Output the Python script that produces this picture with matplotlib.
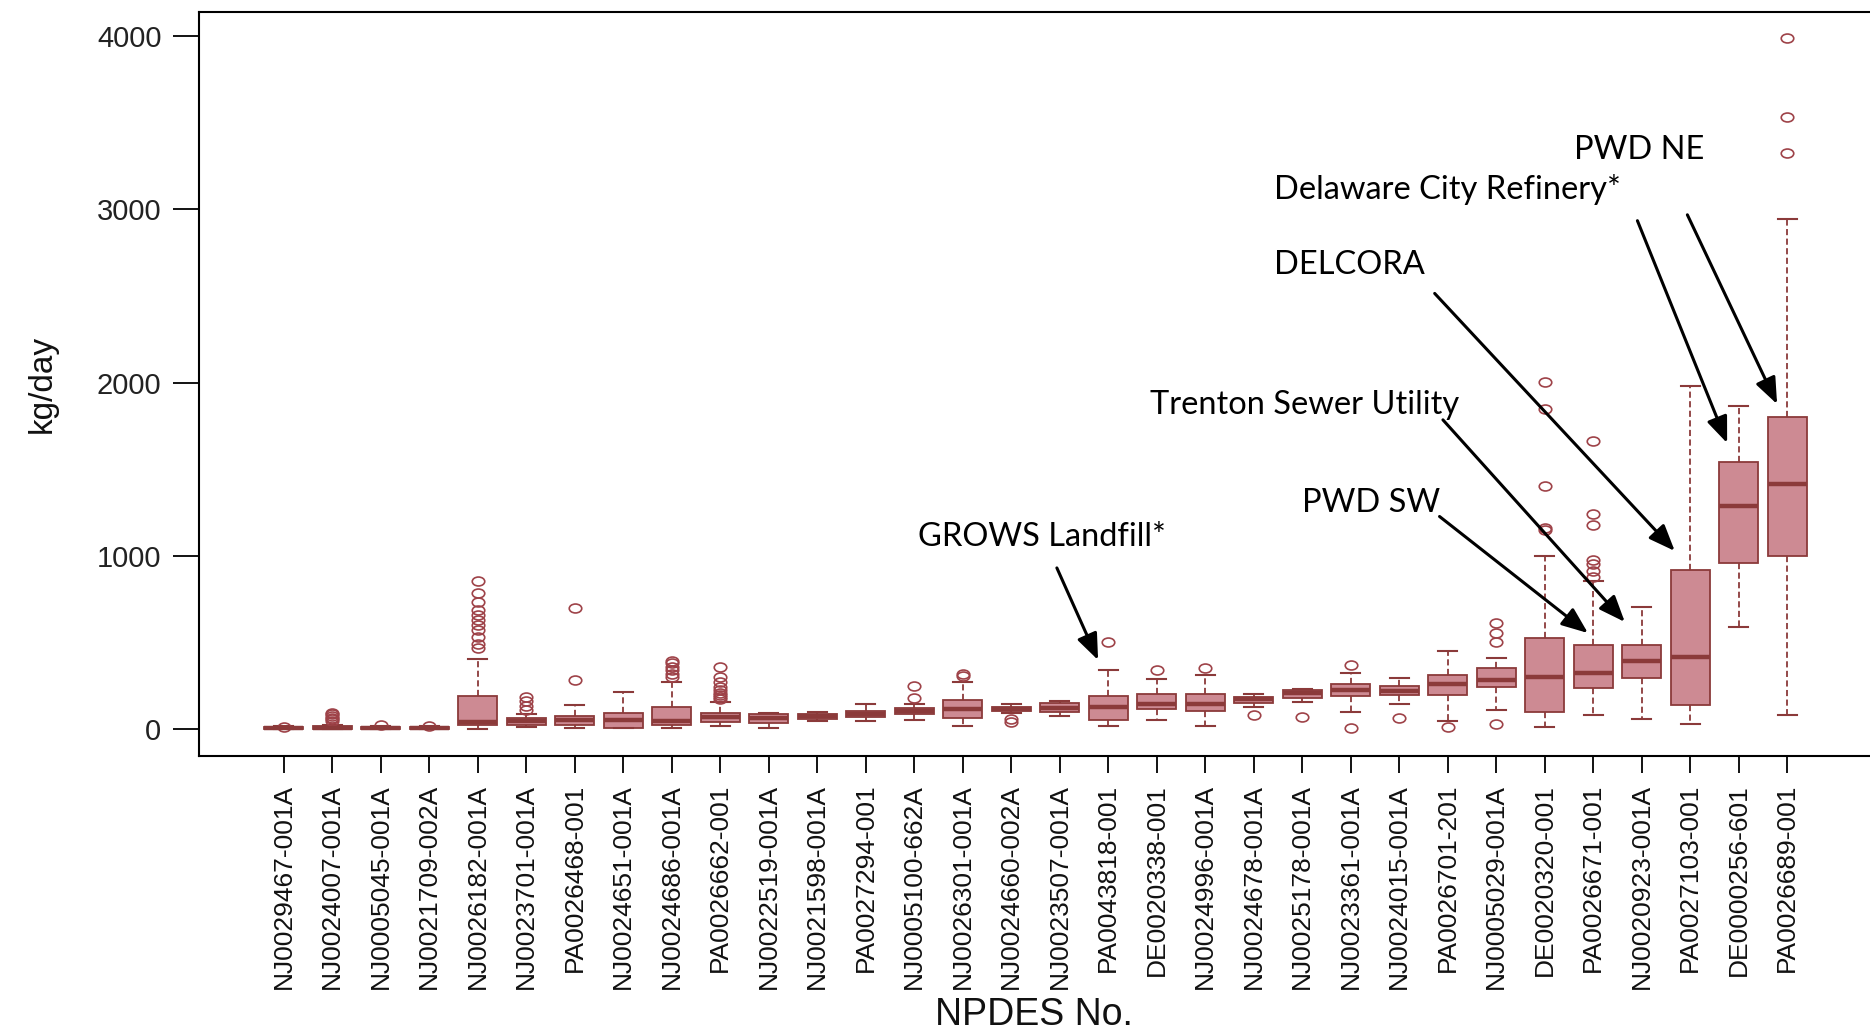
import numpy as np
import matplotlib
matplotlib.use("Agg")
import matplotlib.pyplot as plt
from matplotlib.path import Path
from matplotlib.transforms import Affine2D

# NPDES outfalls, ordered by median load
sites = ["NJ0029467-001A", "NJ0024007-001A", "NJ0005045-001A", "NJ0021709-002A",
         "NJ0026182-001A", "NJ0023701-001A", "PA0026468-001", "NJ0024651-001A",
         "NJ0024686-001A", "PA0026662-001", "NJ0022519-001A", "NJ0021598-001A",
         "PA0027294-001", "NJ0005100-662A", "NJ0026301-001A", "NJ0024660-002A",
         "NJ0023507-001A", "PA0043818-001", "DE0020338-001", "NJ0024996-001A",
         "NJ0024678-001A", "NJ0025178-001A", "NJ0023361-001A", "NJ0024015-001A",
         "PA0026701-201", "NJ0005029-001A", "DE0020320-001", "PA0026671-001",
         "NJ0020923-001A", "PA0027103-001", "DE0000256-601", "PA0026689-001"]

# box statistics, kg/day
q1 = [0, 0, 0, 0, 22, 25, 23, 8, 23, 38, 33, 60, 67, 85, 62, 106,
      100, 52, 115, 106, 148, 181, 190, 196, 198, 244, 100, 238, 292, 139, 957, 1001]
med = [4, 5, 4, 3, 42, 45, 50, 50, 46, 70, 65, 75, 87, 106, 114, 117,
       119, 129, 144, 144, 171, 206, 225, 221, 260, 283, 302, 321, 394, 414, 1289, 1415]
q3 = [10, 20, 12, 10, 192, 65, 77, 94, 129, 94, 87, 87, 102, 123, 167, 129,
      148, 192, 202, 202, 187, 225, 260, 250, 312, 350, 524, 485, 485, 918, 1543, 1800]
whis_lo = [0, 0, 0, 0, 0, 10, 8, 4, 8, 19, 8, 44, 44, 52, 19, 90,
           75, 19, 52, 19, 129, 154, 100, 144, 45, 110, 10, 81, 56, 27, 591, 81]
whis_hi = [15, 25, 20, 15, 404, 85, 139, 212, 273, 158, 92, 100, 144, 144, 273, 144,
           164, 341, 287, 312, 200, 229, 321, 293, 448, 412, 1001, 856, 706, 1982, 1865, 2945]
outliers = [
    [12], [45, 55, 65, 75, 85, 95], [25], [20],
    [466, 490, 533, 571, 600, 629, 660, 687, 735, 783, 856],
    [110, 135, 160, 185], [283, 697], [],
    [300, 320, 340, 360, 380, 395],
    [175, 185, 195, 210, 225, 245, 270, 300, 360],
    [], [], [], [177, 248], [305, 318], [40, 60],
    [], [504], [341], [350], [81], [71], [8, 370], [62],
    [10], [27, 504, 552, 610], [1150, 1160, 1405, 1848, 2005],
    [880, 910, 955, 975, 1180, 1240, 1665],
    [], [], [], [3327, 3535, 3988],
]

# callouts: label, text anchor (x, y), arrow start, arrow tip
notes = ["PWD NE", "Delaware City Refinery*", "DELCORA",
         "Trenton Sewer Utility", "PWD SW", "GROWS Landfill*"]
note_xy = [(27.6, 3343), (21.41, 3114), (21.41, 2680), (18.85, 1868), (22.0, 1303), (14.08, 1110)]
arrow_from = [(29.94, 2969), (28.91, 2935), (24.73, 2515), (24.90, 1785), (24.83, 1227), (16.94, 930)]
arrow_to = [(31.79, 1876), (30.76, 1651), (29.68, 1028), (28.65, 618), (27.89, 554), (17.79, 398)]

edge = "#8B3A3A"
fill = "#CD8A93"

plt.rcParams["font.family"] = ["Liberation Sans", "DejaVu Sans"]

fig = plt.figure(figsize=(18.7, 10.3), dpi=100)
ax = fig.add_axes([199 / 1870, 1 - 756 / 1030, 1.02 - 199 / 1870, 744 / 1030])

stats = []
for i in range(len(sites)):
    stats.append(dict(med=med[i], q1=q1[i], q3=q3[i], whislo=whis_lo[i],
                      whishi=whis_hi[i], fliers=outliers[i], label=sites[i]))

# flattened circle used by the outlier markers
ring = Path.unit_circle().transformed(Affine2D().scale(1.4, 1.0))

pos = np.arange(1, len(sites) + 1)
ax.bxp(stats, positions=pos, widths=0.8, capwidths=0.4, patch_artist=True,
       boxprops=dict(facecolor=fill, edgecolor=edge, linewidth=1.3),
       medianprops=dict(color=edge, linewidth=3.2, solid_capstyle="butt"),
       whiskerprops=dict(color=edge, linewidth=1.3, linestyle=(0, (3.4, 1.9))),
       capprops=dict(color=edge, linewidth=1.5),
       flierprops=dict(marker=ring, markersize=9, markerfacecolor="none",
                       markeredgecolor="#9E4248", markeredgewidth=1.2, linestyle="none"))

ax.set_xlim(-0.748, -0.748 + 1708.4 / 48.5)
ax.set_ylim(-156, 4140)
ax.set_yticks([0, 1000, 2000, 3000, 4000])
ax.set_xticks(pos, sites, rotation=90)
ax.tick_params(axis="y", labelsize=21, length=19, width=1.3, pad=8, labelcolor="#222222")
ax.tick_params(axis="x", labelsize=19, length=12, width=1.3, pad=8, labelcolor="#111111")
for s in ["left", "top", "bottom"]:
    ax.spines[s].set_linewidth(1.5)
ax.spines["right"].set_visible(False)

fig.text(42 / 1870, 1 - 384 / 1030, "kg/day", rotation=90, ha="center", va="center",
         fontsize=24, color="#111111")
fig.text(1034 / 1870, 1 - 1015 / 1030, "NPDES No.", ha="center", va="center",
         fontsize=27, color="#111111")

for label, txy, a0, a1 in zip(notes, note_xy, arrow_from, arrow_to):
    ax.text(txy[0], txy[1], label, ha="left", va="center", fontsize=23.5,
            family=["Lato", "DejaVu Sans"], color="black")
    ax.annotate("", xy=a1, xytext=a0,
                arrowprops=dict(arrowstyle="-|>,head_length=0.8,head_width=0.32",
                                mutation_scale=20, lw=2.2, color="black",
                                shrinkA=0, shrinkB=0))

fig.savefig("out.png", dpi=100)
